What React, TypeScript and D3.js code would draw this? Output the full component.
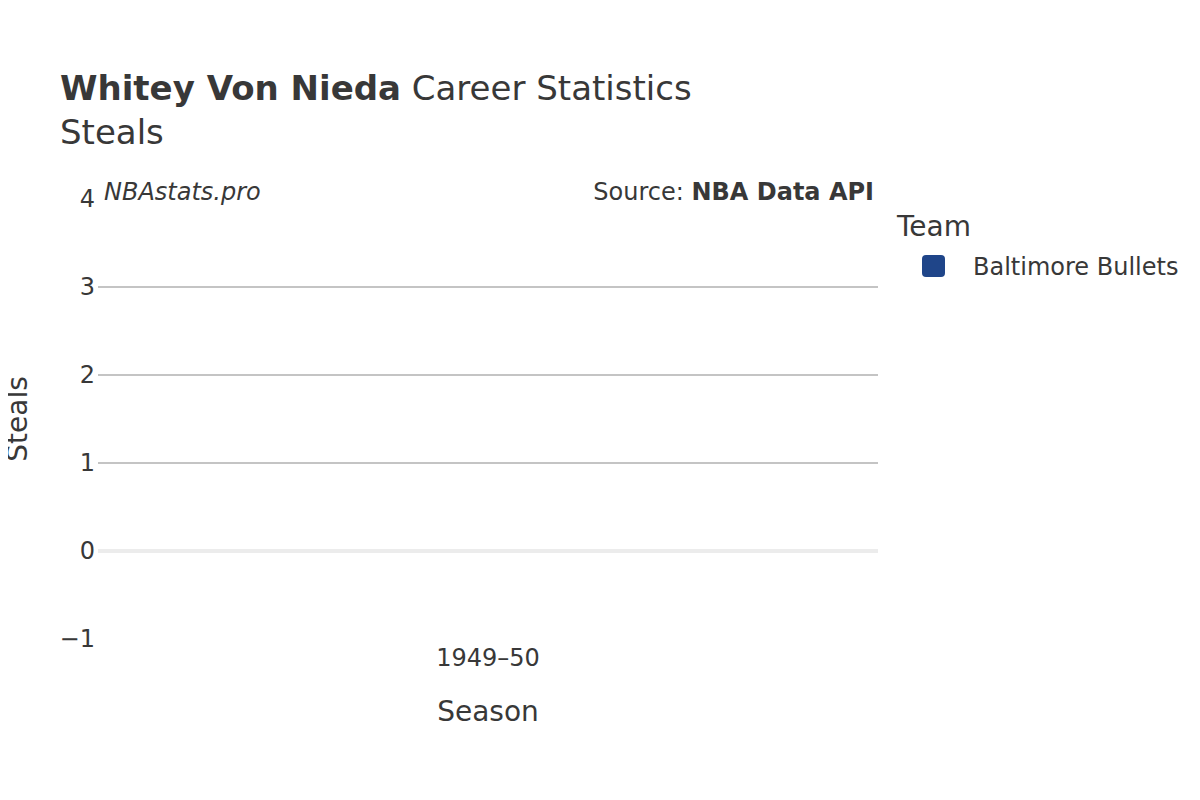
import { useEffect, useRef } from 'react';
import * as d3 from 'd3';

const seasons = ['1949–50'];
const teams = ['Baltimore Bullets'];
const teamColors = ['#1f4589'];
const steals = [0];
const yTicks = [-1, 0, 1, 2, 3, 4];
const gridTicks = [1, 2, 3];

const W = 1200;
const H = 800;
const FONT = '"DejaVu Sans", "Open Sans", sans-serif';
const TEXT = '#383838';

export default function App() {
  const svgRef = useRef<SVGSVGElement>(null);

  useEffect(() => {
    if (!svgRef.current) return;
    const svg = d3.select(svgRef.current);
    svg.selectAll('*').remove();

    const left = 98, right = 878, top = 199, bottom = 639;

    const x = d3.scaleBand().domain(seasons).range([left, right]).padding(0.2);
    const y = d3.scaleLinear().domain([-1, 4]).range([bottom, top]);

    svg.append('rect').attr('width', W).attr('height', H).attr('fill', '#fff');

    // grid
    svg.selectAll('.grid')
      .data(gridTicks)
      .enter()
      .append('line')
      .attr('x1', left).attr('x2', right)
      .attr('y1', d => y(d)).attr('y2', d => y(d))
      .attr('stroke', '#c4c4c4')
      .attr('stroke-width', 2);

    svg.append('line')
      .attr('x1', left).attr('x2', right)
      .attr('y1', y(0)).attr('y2', y(0))
      .attr('stroke', '#ececec')
      .attr('stroke-width', 4);

    // bars (no recorded steals)
    svg.selectAll('.bar')
      .data(steals)
      .enter()
      .append('rect')
      .attr('x', (_, i) => x(seasons[i])!)
      .attr('width', x.bandwidth())
      .attr('y', d => y(Math.max(0, d)))
      .attr('height', d => Math.abs(y(d) - y(0)))
      .attr('fill', teamColors[0]);

    // y tick labels
    svg.selectAll('.ytick')
      .data(yTicks)
      .enter()
      .append('text')
      .attr('x', 95)
      .attr('y', d => y(d))
      .attr('dy', '0.35em')
      .attr('text-anchor', 'end')
      .attr('fill', TEXT)
      .attr('font-size', 24)
      .attr('font-family', FONT)
      .text(d => (d < 0 ? '\u2212' + Math.abs(d) : String(d)));

    // x tick labels
    svg.selectAll('.xtick')
      .data(seasons)
      .enter()
      .append('text')
      .attr('x', d => x(d)! + x.bandwidth() / 2)
      .attr('y', 666)
      .attr('text-anchor', 'middle')
      .attr('fill', TEXT)
      .attr('font-size', 24)
      .attr('font-family', FONT)
      .text(d => d);

    // axis titles
    svg.append('text')
      .attr('x', (left + right) / 2)
      .attr('y', 721)
      .attr('text-anchor', 'middle')
      .attr('fill', TEXT)
      .attr('font-size', 28)
      .attr('font-family', FONT)
      .text('Season');

    svg.append('text')
      .attr('transform', `translate(27,${(top + bottom) / 2}) rotate(-90)`)
      .attr('text-anchor', 'middle')
      .attr('fill', TEXT)
      .attr('font-size', 28)
      .attr('font-family', FONT)
      .text('Steals');

    // title
    const title = svg.append('text')
      .attr('x', 60)
      .attr('y', 100)
      .attr('fill', TEXT)
      .attr('font-size', 34)
      .attr('font-family', FONT);
    title.append('tspan').attr('font-weight', 'bold').text('Whitey Von Nieda');
    title.append('tspan').text(' Career Statistics');

    svg.append('text')
      .attr('x', 60)
      .attr('y', 144)
      .attr('fill', TEXT)
      .attr('font-size', 34)
      .attr('font-family', FONT)
      .text('Steals');

    // annotations
    svg.append('text')
      .attr('x', 104)
      .attr('y', 200)
      .attr('fill', TEXT)
      .attr('font-size', 24)
      .attr('font-style', 'italic')
      .attr('font-family', FONT)
      .text('NBAstats.pro');

    const src = svg.append('text')
      .attr('x', 874)
      .attr('y', 200)
      .attr('text-anchor', 'end')
      .attr('fill', TEXT)
      .attr('font-size', 24)
      .attr('font-family', FONT);
    src.append('tspan').text('Source: ');
    src.append('tspan').attr('font-weight', 'bold').text('NBA Data API');

    // legend
    svg.append('text')
      .attr('x', 897)
      .attr('y', 236)
      .attr('fill', TEXT)
      .attr('font-size', 28)
      .attr('font-family', FONT)
      .text('Team');

    const legend = svg.selectAll('.legend')
      .data(teams)
      .enter()
      .append('g')
      .attr('transform', (_, i) => `translate(922,${255 + i * 30})`);
    legend.append('rect')
      .attr('width', 23).attr('height', 22)
      .attr('rx', 4)
      .attr('fill', (_, i) => teamColors[i]);
    legend.append('text')
      .attr('x', 51)
      .attr('y', 12)
      .attr('dy', '0.35em')
      .attr('fill', TEXT)
      .attr('font-size', 24)
      .attr('font-family', FONT)
      .text(d => d);
  }, []);

  return (
    <svg ref={svgRef} width={W} height={H} style={{ display: 'block', margin: '-8px' }} />
  );
}
